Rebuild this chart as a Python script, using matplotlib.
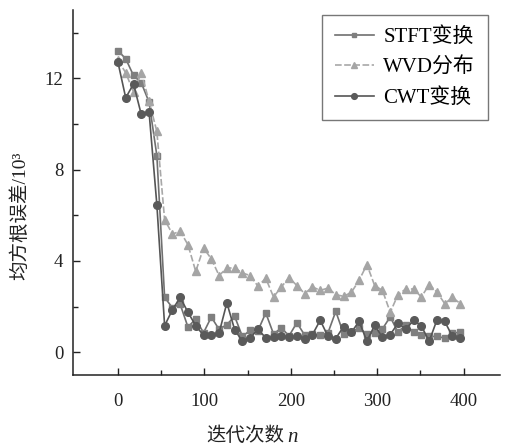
import numpy as np
import matplotlib
matplotlib.use("Agg")
import matplotlib.pyplot as plt
from matplotlib.ticker import FixedLocator

plt.rcParams['font.family'] = ['Liberation Serif', 'Noto Sans CJK SC']

# iteration index (one point every 9 iterations)
n = np.arange(45) * 9

stft = [13.22, 12.86, 12.13, 11.81, 10.96, 8.62, 2.40, 1.95, 2.10, 1.10,
        1.46, 0.85, 1.54, 1.00, 1.21, 1.57, 0.69, 0.96, 0.95, 1.72,
        0.80, 1.06, 0.72, 1.29, 0.75, 0.80, 0.74, 0.85, 1.79, 0.81,
        0.90, 1.06, 0.80, 0.84, 1.02, 1.55, 0.87, 1.21, 0.87, 0.77,
        0.69, 0.69, 0.62, 0.84, 0.87]
wvd = [12.80, 12.25, 11.40, 12.25, 11.00, 9.68, 5.81, 5.18, 5.30, 4.71,
       3.54, 4.57, 4.09, 3.36, 3.69, 3.69, 3.47, 3.36, 2.89, 3.24,
       2.42, 2.86, 3.27, 2.92, 2.57, 2.86, 2.71, 2.81, 2.52, 2.45,
       2.62, 3.15, 3.84, 2.92, 2.71, 1.75, 2.52, 2.77, 2.77, 2.42,
       2.96, 2.64, 2.13, 2.40, 2.13]
cwt = [12.71, 11.15, 11.76, 10.42, 10.53, 6.47, 1.16, 1.86, 2.40, 1.75,
       1.16, 0.74, 0.74, 0.84, 2.16, 0.99, 0.47, 0.62, 1.02, 0.62,
       0.65, 0.69, 0.66, 0.69, 0.60, 0.77, 1.40, 0.69, 0.60, 1.12,
       0.87, 1.35, 0.48, 1.18, 0.65, 0.77, 1.27, 1.02, 1.39, 1.16,
       0.47, 1.41, 1.35, 0.69, 0.62]

labels = ['STFT变换', 'WVD分布', 'CWT变换']
xticks = [0, 100, 200, 300, 400]
yticks = [0, 4, 8, 12]

W, H = 507, 445
fig = plt.figure(figsize=(W / 100, H / 100), dpi=100)
ax = fig.add_axes([73 / W, 1 - 375 / H, 427 / W, 365 / H])

ax.plot(n, stft, color='#707070', lw=1.2, marker='s', ms=4.8,
        mfc='#7f7f7f', mec='#7f7f7f', label=labels[0])
ax.plot(n, wvd, color='#a8a8a8', lw=1.2, ls=(0, (4, 1.5)), marker='^', ms=6,
        mfc='#a5a5a5', mec='#a5a5a5', label=labels[1])
ax.plot(n, cwt, color='#555555', lw=1.2, marker='o', ms=5.5,
        mfc='#5a5a5a', mec='#5a5a5a', label=labels[2])

ax.set_xlim(-52, 442)
ax.set_ylim(-1, 15)
ax.xaxis.set_major_locator(FixedLocator(xticks))
ax.xaxis.set_minor_locator(FixedLocator([50, 150, 250, 350]))
ax.yaxis.set_major_locator(FixedLocator(yticks))
ax.yaxis.set_minor_locator(FixedLocator([2, 6, 10, 14]))

for side in ['top', 'right']:
    ax.spines[side].set_visible(False)
for side in ['left', 'bottom']:
    ax.spines[side].set_linewidth(1.1)
    ax.spines[side].set_color('#222222')

ax.tick_params(axis='both', which='major', direction='in', length=5, width=1,
               labelsize=13.5, colors='#222222')
ax.tick_params(axis='both', which='minor', direction='in', length=3.5, width=1,
               colors='#222222')
ax.tick_params(axis='x', which='major', pad=13)
ax.tick_params(axis='y', which='major', pad=7)

# axis titles: CJK part plus the italic n / superscript
fig.text(284 / W, 1 - 436 / H, '迭代次数', fontsize=14, color='#222222',
         ha='right', va='center')
fig.text(287 / W, 1 - 437 / H, 'n', fontsize=15, style='italic',
         color='#222222', ha='left', va='center')
fig.text(20 / W, 1 - 216 / H, '均方根误差/10³', fontsize=14, color='#222222',
         rotation=90, ha='center', va='center')

leg = ax.legend(loc='upper left', bbox_to_anchor=((322 - 73) / 427, (375 - 15) / 365),
                borderaxespad=0, fontsize=15, frameon=True, fancybox=False,
                handlelength=1.9, handletextpad=0.45, labelspacing=0.5,
                borderpad=0.6, markerscale=0.75)
leg.get_frame().set_edgecolor('#555555')
leg.get_frame().set_linewidth(1.0)

fig.savefig('out.png', dpi=100)
